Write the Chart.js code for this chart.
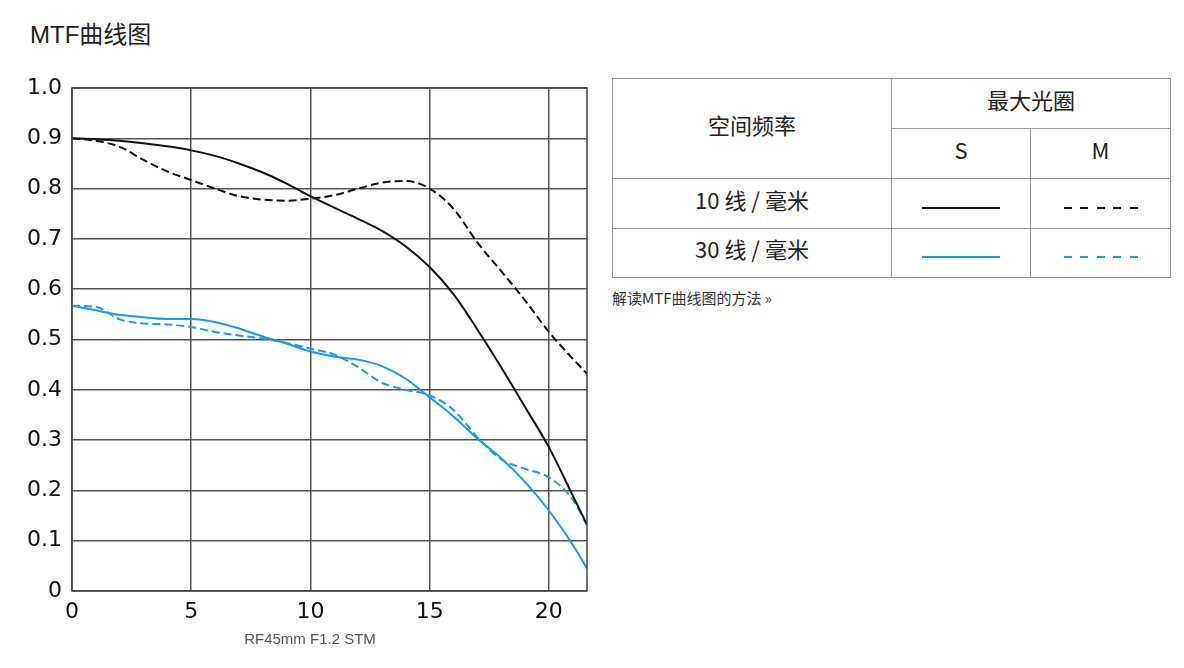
<!DOCTYPE html>
<html>
<head>
<meta charset="utf-8">
<script src="https://cdn.jsdelivr.net/npm/chart.js@4/dist/chart.umd.min.js"></script>
<style>
  body { margin: 0; background: #fff; font-family: "Liberation Sans", "Noto Sans CJK SC", sans-serif; color: #222; }
  #title { position: absolute; left: 30px; top: 15px; font-size: 24px; }
  #box { position: absolute; left: 0; top: 60px; width: 600px; height: 600px; }
  #caption { position: absolute; left: 210px; width: 200px; top: 630px; text-align: center; font-size: 15px; color: #555; }
  table { position: absolute; left: 612px; top: 78px; border-collapse: collapse; font-family: "Noto Sans CJK SC", sans-serif; font-size: 22px; color: #222; }
  td { border: 1px solid #999; text-align: center; padding: 0; }
  td span.t { position: relative; top: -5px; }
  .ln { display: inline-block; width: 78px; height: 2px; vertical-align: middle; }
  .dash { width: 74px; }
  #link { position: absolute; left: 612px; top: 287px; font-size: 15px; color: #333; font-family: "Noto Sans CJK SC", sans-serif; }
</style>
</head>
<body>
<div id="title">MTF曲线图</div>
<div id="box"><canvas id="mtf"></canvas></div>
<div id="caption"></div>
<table>
  <tr style="height:50px"><td rowspan="2" style="width:278px"><span class="t">空间频率</span></td><td colspan="2"><span class="t">最大光圈</span></td></tr>
  <tr style="height:50px"><td style="width:138px"><span class="t">S</span></td><td style="width:139px"><span class="t">M</span></td></tr>
  <tr style="height:50px"><td><span class="t">10 线 / 毫米</span></td><td><span class="ln" style="background:#111"></span></td><td><span class="ln dash" style="background:repeating-linear-gradient(to right,#111 0 8px,transparent 8px 16.5px)"></span></td></tr>
  <tr style="height:49px"><td><span class="t">30 线 / 毫米</span></td><td><span class="ln" style="background:#1a9be8"></span></td><td><span class="ln dash" style="background:repeating-linear-gradient(to right,#1a9be8 0 8px,transparent 8px 16.5px)"></span></td></tr>
</table>
<div id="link">解读MTF曲线图的方法 »</div>
<script>
const xs  = [0, 1, 2, 3, 4, 5, 6, 7, 8, 9, 10, 11, 12, 13, 14, 15, 16, 17, 18, 19, 20, 21, 21.6];
const s10 = [0.900, 0.898, 0.895, 0.890, 0.884, 0.876, 0.865, 0.850, 0.832, 0.810, 0.785, 0.762, 0.740, 0.716, 0.685, 0.644, 0.590, 0.520, 0.445, 0.366, 0.286, 0.190, 0.132];
const m10 = [0.900, 0.895, 0.883, 0.857, 0.834, 0.817, 0.800, 0.785, 0.778, 0.776, 0.780, 0.787, 0.800, 0.812, 0.815, 0.800, 0.760, 0.693, 0.636, 0.578, 0.515, 0.462, 0.432];
const s30 = [0.567, 0.558, 0.549, 0.544, 0.541, 0.541, 0.535, 0.522, 0.506, 0.492, 0.476, 0.466, 0.460, 0.447, 0.422, 0.385, 0.347, 0.303, 0.264, 0.217, 0.160, 0.092, 0.045];
const m30 = [0.567, 0.565, 0.540, 0.532, 0.530, 0.525, 0.515, 0.508, 0.502, 0.493, 0.482, 0.470, 0.445, 0.414, 0.400, 0.389, 0.360, 0.306, 0.262, 0.243, 0.226, 0.182, 0.131];
const yTicks = ['0', '0.1', '0.2', '0.3', '0.4', '0.5', '0.6', '0.7', '0.8', '0.9', '1.0'];
const caption = 'RF45mm F1.2 STM';

document.getElementById('caption').textContent = caption;

const pts = ys => xs.map((x, i) => ({ x: x, y: ys[i] }));
const line = (ys, color, dash) => ({
  data: pts(ys), borderColor: color, borderWidth: 2, borderDash: dash,
  pointRadius: 0, cubicInterpolationMode: 'monotone', fill: false
});

// plot frame
const frame = {
  id: 'frame',
  afterDraw(chart) {
    const { ctx, chartArea: a } = chart;
    ctx.save();
    ctx.strokeStyle = '#444';
    ctx.lineWidth = 1.5;
    ctx.strokeRect(a.left, a.top, a.right - a.left, a.bottom - a.top);
    ctx.restore();
  }
};

new Chart(document.getElementById('mtf'), {
  type: 'line',
  data: {
    datasets: [
      line(s10, '#111', []),
      line(m10, '#111', [8, 4]),
      line(s30, '#1a9be8', []),
      line(m30, '#1a9be8', [8, 4])
    ]
  },
  options: {
    responsive: true,
    maintainAspectRatio: false,
    animation: false,
    layout: { padding: { top: 28, right: 13 } },
    plugins: { legend: { display: false }, tooltip: { enabled: false } },
    scales: {
      x: {
        type: 'linear', min: 0, max: 21.6,
        afterFit: s => { s.height = 69; },
        grid: { color: '#555', lineWidth: 1.5, drawTicks: false },
        border: { display: false },
        ticks: { stepSize: 5, includeBounds: false, padding: 8, color: '#111', font: { family: 'DejaVu Sans', size: 22 } }
      },
      y: {
        min: 0, max: 1,
        afterFit: s => { s.width = 72; },
        grid: { color: '#555', lineWidth: 1.5, drawTicks: false },
        border: { display: false },
        ticks: { stepSize: 0.1, padding: 10, color: '#111', font: { family: 'DejaVu Sans', size: 22 },
          callback: (v, i) => yTicks[i] }
      }
    }
  },
  plugins: [frame]
});
</script>
</body>
</html>
